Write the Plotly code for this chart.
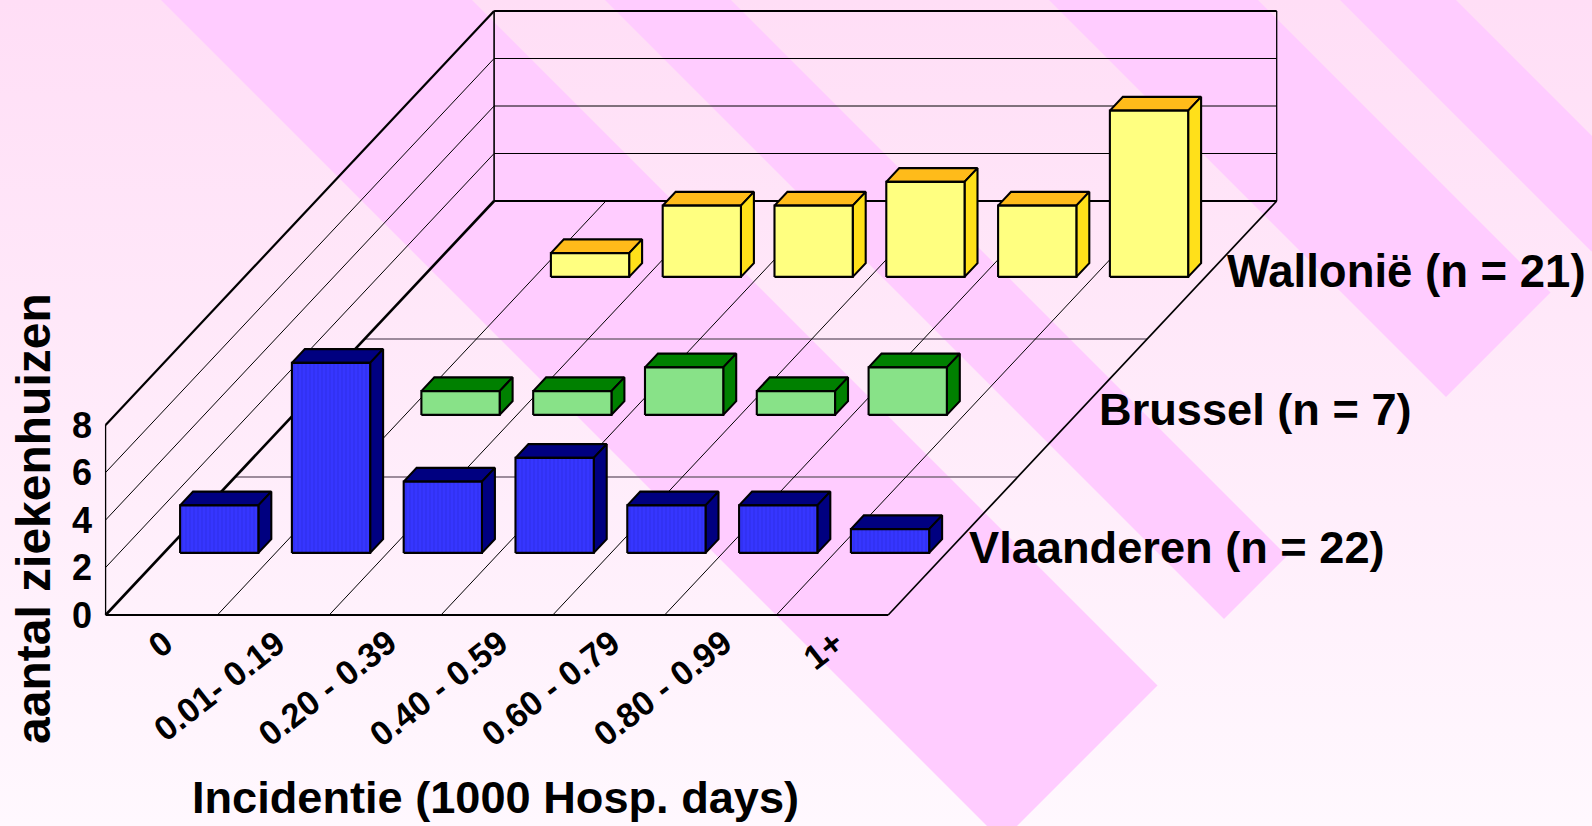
import plotly.graph_objects as go

# ---------- data ----------
categories = ["0", "0.01- 0.19", "0.20 - 0.39", "0.40 - 0.59", "0.60 - 0.79", "0.80 - 0.99", "1+"]
vlaanderen = [2, 8, 3, 4, 2, 2, 1]
brussel = [0, 1, 1, 2, 1, 2, 0]
wallonie = [0, 1, 3, 3, 4, 3, 7]
series_labels = ["Vlaanderen (n = 22)", "Brussel (n = 7)", "Wallonië (n = 21)"]
y_ticks = [0, 2, 4, 6, 8]
y_title = "aantal ziekenhuizen"
x_title = "Incidentie (1000 Hosp. days)"

# ---------- page / projection ----------
W, H = 1592, 826
ORIGIN_X, ORIGIN_Y = 105.6, 615.0
CAT_W, UNIT = 111.8, 23.75
DEPTH_X, DEPTH_Y = 129.5 / CAT_W, 138.0 / UNIT
N_ROWS = 3
N_CATS = len(categories)
Y_MAX = y_ticks[-1]


def project(cat, val, depth):
    return cat + depth * DEPTH_X, val + depth * DEPTH_Y


def from_px(px, py):
    return (px - ORIGIN_X) / CAT_W, (ORIGIN_Y - py) / UNIT


fig = go.Figure()


def poly(points, **kw):
    fig.add_trace(go.Scatter(x=[p[0] if p else None for p in points],
                             y=[p[1] if p else None for p in points],
                             mode="lines", hoverinfo="skip", showlegend=False, **kw))


# ---------- background ----------
corners = [from_px(0, 0), from_px(W, 0), from_px(W, H), from_px(0, H), from_px(0, 0)]
poly(corners, fill="toself", line=dict(width=0),
     fillgradient=dict(type="vertical",
                       colorscale=[[0, "#FFF8FE"], [1, "#FFDEF6"]]))

STRIPE_END = 1843  # x + y of the stripes' lower right end
stripe_bands = [(161, 472), (605, 731), (1049, 1258), (1340, 1456)]
pts = []
for a, b in stripe_bands:
    pts += [from_px(a, 0), from_px(b, 0),
            from_px((STRIPE_END + b) / 2, (STRIPE_END - b) / 2),
            from_px((STRIPE_END + a) / 2, (STRIPE_END - a) / 2),
            from_px(a, 0), None]
poly(pts, fill="toself", fillcolor="#FFCCFF", line=dict(width=0))


def seg(a, b, width=1.0, color="#000"):
    poly([a, b], line=dict(color=color, width=width))


# ---------- walls and floor ----------
for v in y_ticks[1:-1]:
    seg(project(0, v, N_ROWS), project(N_CATS, v, N_ROWS))
    seg(project(0, v, 0), project(0, v, N_ROWS))
for r in range(1, N_ROWS):
    seg(project(0, 0, r), project(N_CATS, 0, r), 1.6, "#7d6a7d")
for i in range(1, N_CATS):
    seg(project(i, 0, 0), project(i, 0, N_ROWS))
seg(project(N_CATS, 0, 0), project(N_CATS, 0, N_ROWS), 1.7, "#000")
seg(project(0, 0, 0), project(N_CATS, 0, 0), 2.1, "#000")
seg(project(0, 0, 0), project(0, 0, N_ROWS), 2.6, "#000")
seg(project(0, 0, 0), project(0, Y_MAX, 0), 1.3, "#000")
seg(project(0, Y_MAX, 0), project(0, Y_MAX, N_ROWS), 2.2, "#000")
seg(project(0, 0, N_ROWS), project(0, Y_MAX, N_ROWS), 1.6, "#000")
seg(project(0, Y_MAX, N_ROWS), project(N_CATS, Y_MAX, N_ROWS), 2.1, "#000")
seg(project(0, 0, N_ROWS), project(N_CATS, 0, N_ROWS), 2.1, "#000")
seg(project(N_CATS, 0, N_ROWS), project(N_CATS, Y_MAX, N_ROWS), 1.3, "#000")

# ---------- bars, back row first ----------
BAR_OFFSET, BAR_W = 0.145, 0.70
DEPTH_0, DEPTH_1 = 0.45, 0.55
rows = [
    (2, wallonie, "#FFFF80", "#FFBB1A", "#FFE01A", None),
    (1, brussel, "#88E288", "#008000", "#008000", None),
    (0, vlaanderen, "#3030F0", "#000080", "#000080",
     dict(shape="|", size=4, solidity=0.3, fgcolor="#2828D8", bgcolor="#3636FF")),
]
for row, values, front, top, side, pattern in rows:
    f_pts, t_pts, s_pts = [], [], []
    for i, v in enumerate(values):
        if v == 0:
            continue
        x0, x1 = i + BAR_OFFSET, i + BAR_OFFSET + BAR_W
        d0, d1 = row + DEPTH_0, row + DEPTH_1
        f_pts += [project(x0, 0, d0), project(x1, 0, d0), project(x1, v, d0),
                  project(x0, v, d0), project(x0, 0, d0), None]
        t_pts += [project(x0, v, d0), project(x1, v, d0), project(x1, v, d1),
                  project(x0, v, d1), project(x0, v, d0), None]
        s_pts += [project(x1, 0, d0), project(x1, 0, d1), project(x1, v, d1),
                  project(x1, v, d0), project(x1, 0, d0), None]
    outline = dict(color="#000", width=2.1)
    poly(t_pts, fill="toself", fillcolor=top, line=outline)
    poly(s_pts, fill="toself", fillcolor=side, line=outline)
    kw = dict(fillpattern=pattern) if pattern else {}
    poly(f_pts, fill="toself", fillcolor=front, line=outline, **kw)

# ---------- text ----------
FONT = "Liberation Sans"
ann = []


def label(text, x, y, size, xanchor="left", yanchor="bottom", angle=0, xref="x", yref="y"):
    ann.append(dict(text=text, x=x, y=y, xref=xref, yref=yref, showarrow=False,
                    xanchor=xanchor, yanchor=yanchor, textangle=angle,
                    font=dict(family=FONT, size=size, color="#000", weight=700),
                    borderpad=0, borderwidth=0))


for v in y_ticks:
    label(str(v), *from_px(92, ORIGIN_Y - v * UNIT), 36, xanchor="right", yanchor="middle")
for i, c in enumerate(categories):
    label(c, i + 0.66, -0.35, 34.2, xanchor="right", yanchor="top", angle=-38)

label(series_labels[0], *from_px(969, 573), 45.2)
label(series_labels[1], *from_px(1098.5, 435), 45.2)
label(series_labels[2], *from_px(1227, 297), 45.5)
label(x_title, *from_px(192, 823), 45.15)
label(y_title, *from_px(33, 519), 48, xanchor="center", yanchor="middle", angle=-90)

x0r, _ = from_px(0, 0)
x1r, _ = from_px(W, 0)
_, ytop = from_px(0, 0)
_, ybot = from_px(0, H)
fig.update_layout(
    width=W, height=H, autosize=False,
    margin=dict(l=0, r=0, t=0, b=0, pad=0),
    paper_bgcolor="#FFEFFB", plot_bgcolor="rgba(0,0,0,0)",
    xaxis=dict(range=[x0r, x1r], visible=False, fixedrange=True),
    yaxis=dict(range=[ybot, ytop], visible=False, fixedrange=True),
    annotations=ann, showlegend=False, hovermode=False,
)
fig.write_html("out.html", config=dict(displayModeBar=False),
               post_script="document.body.style.margin='0';document.body.style.overflow='hidden';")
